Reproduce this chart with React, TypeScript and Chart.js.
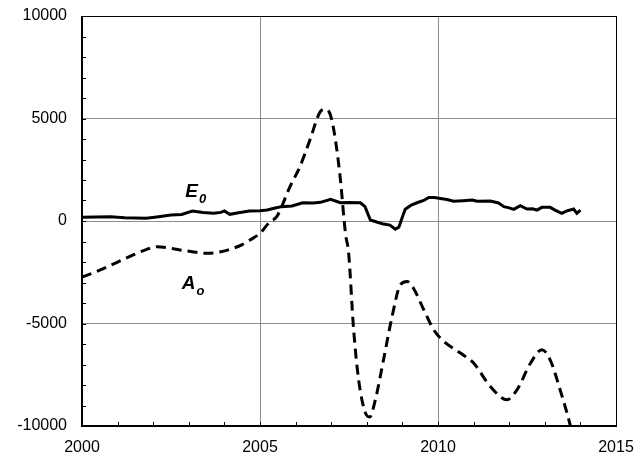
import React, { useEffect, useRef } from 'react';
import { Chart, registerables } from 'chart.js';

Chart.register(...registerables);

// E0 (solid line) – years and values
const e0Years = [
  2000.0, 2000.4, 2000.8, 2001.2, 2001.5, 2001.8, 2002.1, 2002.5, 2002.8, 2003.1,
  2003.4, 2003.7, 2003.9, 2004.0, 2004.15, 2004.4, 2004.7, 2005.0, 2005.2, 2005.4,
  2005.6, 2005.9, 2006.2, 2006.5, 2006.7, 2006.98, 2007.26, 2007.5, 2007.82, 2007.95,
  2008.1, 2008.3, 2008.47, 2008.65, 2008.8, 2008.9, 2009.0, 2009.08, 2009.25, 2009.41,
  2009.6, 2009.74, 2009.9, 2010.07, 2010.25, 2010.44, 2010.7, 2010.96, 2011.1, 2011.47,
  2011.7, 2011.85, 2012.0, 2012.13, 2012.31, 2012.5, 2012.65, 2012.78, 2012.92, 2013.15,
  2013.3, 2013.48, 2013.6, 2013.81, 2013.9, 2014.0,
];
const e0Values = [
  180, 200, 210, 160, 150, 130, 200, 290, 320, 490,
  420, 375, 420, 490, 325, 400, 490, 500, 535, 620,
  700, 730, 890, 880, 910, 1055, 890, 900, 890, 700,
  50, -60, -150, -200, -400, -300, 200, 570, 780, 890,
  1000, 1150, 1150, 1100, 1050, 960, 990, 1020, 960, 975,
  880, 700, 640, 570, 745, 585, 600, 535, 665, 665,
  520, 375, 480, 585, 375, 535,
];

// Ao (dashed line) – years and values
const aoYears = [
  2000.0, 2000.5, 2000.97, 2001.44, 2001.8, 2002.1, 2002.4, 2002.75, 2003.1, 2003.5,
  2003.9, 2004.25, 2004.5, 2004.72, 2005.0, 2005.28, 2005.47, 2005.84, 2006.12, 2006.4,
  2006.69, 2006.84, 2006.98, 2007.12, 2007.26, 2007.4, 2007.49, 2007.63, 2007.77, 2007.96,
  2008.08, 2008.24, 2008.47, 2008.71, 2008.94, 2009.13, 2009.31, 2009.6, 2009.88, 2010.16,
  2010.63, 2011.0, 2011.47, 2011.94, 2012.22, 2012.6, 2012.92, 2013.15, 2013.43, 2013.72,
  2013.85,
];
const aoValues = [
  -2740, -2400, -2030, -1655, -1400, -1250, -1300, -1410, -1500, -1575,
  -1500, -1330, -1150, -925, -600, -30, 210, 1670, 2645, 3945,
  5320, 5450, 5160, 3945, 2000, -600, -1575, -5300, -7740, -9360,
  -9560, -8720, -6770, -4660, -3120, -2950, -3280, -4330, -5310, -5870,
  -6440, -6930, -8070, -8720, -8230, -6930, -6280, -6770, -8230, -10000,
  -11000,
];

const xTickValues = [2000, 2005, 2010, 2015];
const yTickValues = [-10000, -5000, 0, 5000, 10000];

// Series labels placed in data coordinates
const seriesLabels = [
  { main: 'E', sub: '0', x: 2002.9, y: 1170 },
  { main: 'A', sub: 'o', x: 2002.8, y: -3310 },
];

const FONT = '"Liberation Sans", Arial, Helvetica, sans-serif';

const decorPlugin = {
  id: 'decor',
  afterDatasetsDraw(chart: any) {
    const { ctx, chartArea, scales } = chart;
    const xs = scales.x;
    const ys = scales.y;
    ctx.save();
    ctx.strokeStyle = '#000';
    // minor ticks (inward)
    ctx.lineWidth = 1;
    for (let v = -10000; v <= 10000; v += 1000) {
      const py = Math.round(ys.getPixelForValue(v)) + 0.5;
      ctx.beginPath();
      ctx.moveTo(chartArea.left, py);
      ctx.lineTo(chartArea.left + 4, py);
      ctx.stroke();
    }
    for (let v = 2000; v <= 2015; v += 1) {
      const px = Math.round(xs.getPixelForValue(v)) + 0.5;
      ctx.beginPath();
      ctx.moveTo(px, chartArea.bottom);
      ctx.lineTo(px, chartArea.bottom - 4);
      ctx.stroke();
    }
    // frame
    ctx.lineWidth = 1;
    ctx.strokeRect(
      Math.round(chartArea.left) + 0.5,
      Math.round(chartArea.top) + 0.5,
      Math.round(chartArea.right - chartArea.left),
      Math.round(chartArea.bottom - chartArea.top)
    );
    ctx.lineWidth = 2;
    ctx.beginPath();
    ctx.moveTo(Math.round(chartArea.left), Math.round(chartArea.top));
    ctx.lineTo(Math.round(chartArea.left), Math.round(chartArea.bottom));
    ctx.lineTo(Math.round(chartArea.right), Math.round(chartArea.bottom));
    ctx.stroke();

    // series labels
    ctx.fillStyle = '#000';
    ctx.textBaseline = 'alphabetic';
    ctx.textAlign = 'left';
    for (const l of seriesLabels) {
      const px = xs.getPixelForValue(l.x);
      const py = ys.getPixelForValue(l.y);
      ctx.font = `italic bold 19px ${FONT}`;
      ctx.fillText(l.main, px, py);
      const w = ctx.measureText(l.main).width;
      ctx.font = `italic bold 13px ${FONT}`;
      ctx.fillText(l.sub, px + w + 1, py + 6);
    }
    ctx.restore();
  },
};

export default function App() {
  const ref = useRef<HTMLCanvasElement>(null);

  useEffect(() => {
    if (!ref.current) return;
    const chart = new Chart(ref.current, {
      type: 'line',
      data: {
        datasets: [
          {
            label: 'E0',
            data: e0Years.map((x, i) => ({ x, y: e0Values[i] })),
            borderColor: '#000',
            borderWidth: 3,
            pointRadius: 0,
            tension: 0,
            fill: false,
          },
          {
            label: 'Ao',
            data: aoYears.map((x, i) => ({ x, y: aoValues[i] })),
            borderColor: '#000',
            borderWidth: 3,
            borderDash: [10, 6],
            pointRadius: 0,
            cubicInterpolationMode: 'monotone',
            fill: false,
          },
        ],
      },
      options: {
        responsive: false,
        animation: false,
        devicePixelRatio: 1,
        layout: { padding: { top: 16, right: 21, left: 0, bottom: 0 } },
        plugins: { legend: { display: false }, tooltip: { enabled: false } },
        scales: {
          x: {
            type: 'linear',
            min: 2000,
            max: 2015,
            afterBuildTicks: (s: any) => {
              s.ticks = xTickValues.map((v) => ({ value: v }));
            },
            afterFit: (s: any) => {
              s.height = 32;
              s.paddingLeft = 0;
              s.paddingRight = 0;
            },
            ticks: {
              padding: 12,
              color: '#000',
              font: { family: FONT, size: 16 },
              maxRotation: 0,
              autoSkip: false,
              callback: (v: any) => String(v),
            },
            grid: { color: '#8c8c8c', lineWidth: 1, drawTicks: false },
            border: { display: false },
          },
          y: {
            type: 'linear',
            min: -10000,
            max: 10000,
            afterBuildTicks: (s: any) => {
              s.ticks = yTickValues.map((v) => ({ value: v }));
            },
            afterFit: (s: any) => {
              s.width = 82;
              s.paddingTop = 0;
              s.paddingBottom = 0;
            },
            ticks: {
              padding: 15,
              color: '#000',
              font: { family: FONT, size: 16 },
              autoSkip: false,
              callback: (v: any) => String(v),
            },
            grid: { color: '#8c8c8c', lineWidth: 1, drawTicks: false },
            border: { display: false },
          },
        },
      },
      plugins: [decorPlugin],
    } as any);
    return () => chart.destroy();
  }, []);

  return (
    <div style={{ position: 'absolute', left: 0, top: 0, width: 637, height: 458, background: '#fff' }}>
      <canvas ref={ref} width={637} height={458} style={{ display: 'block' }} />
    </div>
  );
}
